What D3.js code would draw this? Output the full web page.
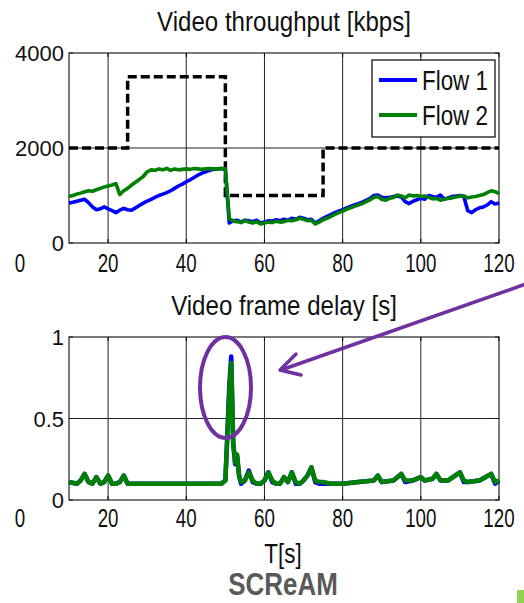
<!DOCTYPE html>
<html><head><meta charset="utf-8">
<script src="https://cdn.jsdelivr.net/npm/d3@7"></script>
<style>html,body{margin:0;padding:0;background:#fff;}svg{display:block;}</style>
</head><body>
<svg id="c" width="524" height="603"></svg>
<script>
// ---------- data ----------
const time = d3.range(10, 121, 1); // seconds, 10..120
const flow1 = [840,860,880,900,920,850,760,700,720,760,720,680,640,690,730,700,690,740,790,840,
880,920,960,1000,1030,1060,1100,1150,1200,1240,1290,1330,1380,1430,1470,1500,1530,1550,1560,1570,
1550,420,470,480,440,480,470,450,480,420,440,470,460,490,470,500,480,520,500,540,
520,490,500,420,470,520,560,600,640,670,700,740,770,800,830,860,900,940,1000,1010,
960,950,960,980,990,970,870,830,880,910,940,920,1000,980,960,1010,920,950,980,990,
1000,980,680,640,700,740,760,800,870,820,840];
const flow2 = [980,1000,1030,1050,1080,1100,1090,1120,1150,1180,1200,1220,1250,1020,1100,1150,1220,1280,1340,1400,
1500,1540,1530,1560,1540,1570,1530,1560,1540,1550,1560,1550,1570,1560,1550,1560,1570,1560,1560,1570,
1560,520,460,450,430,470,440,420,450,400,420,440,430,460,440,450,480,470,490,520,
500,470,480,400,440,490,520,560,600,640,670,710,740,770,800,830,870,910,960,980,
920,900,940,960,1010,990,950,1010,990,1000,980,990,960,930,940,900,920,940,950,970,
990,990,950,970,980,1000,1020,1060,1100,1080,1040];
const targetT = [10,25,25,50,50,75,75,120];
const targetV = [2000,2000,3500,3500,1000,1000,2000,2000];

const delayT = [10,12,13,14,15,16,17,18,19,20,21,22,23,24,25,26,28,30,35,40,45,48,49,49.5,50,50.5,51,51.5,52,52.5,53,53.5,54,55,56,57,58,59,60,61,62,63,64,65,66,67,68,69,70,71,72,73,74,75,77,80,84,88,89,90,93,95,96,98,100,101,103,104,105,107,110,111,112,115,118,119,120];
const delay1 = [.11,.10,.12,.16,.11,.10,.14,.10,.11,.15,.10,.10,.11,.15,.10,.10,.10,.10,.10,.10,.10,.10,.10,.11,.12,.40,.70,.88,.35,.22,.27,.15,.10,.12,.18,.11,.10,.10,.12,.17,.11,.10,.10,.14,.11,.17,.10,.10,.12,.15,.20,.11,.10,.10,.10,.10,.11,.12,.15,.11,.12,.16,.11,.12,.14,.12,.13,.16,.12,.12,.17,.11,.11,.12,.16,.10,.12];
const delay2 = [.11,.10,.12,.16,.11,.10,.14,.10,.11,.15,.10,.10,.11,.15,.10,.10,.10,.10,.10,.10,.10,.10,.10,.11,.12,.38,.66,.84,.36,.23,.28,.15,.11,.12,.17,.12,.10,.10,.12,.17,.12,.10,.10,.14,.11,.17,.11,.10,.12,.15,.20,.12,.11,.11,.10,.10,.11,.12,.15,.11,.12,.16,.12,.12,.14,.12,.13,.16,.12,.12,.17,.12,.11,.12,.16,.11,.12];

const xTicks = [20,40,60,80,100,120];
const yTicksTop = [0,2000,4000];
const yTicksBot = [0,0.5,1];
const yTickLabelsBot = ["0","0.5","1"];
const seriesNames = ["Flow 1","Flow 2"];
const colors = ["#0000ff","#008000"];

// ---------- layout ----------
const svg = d3.select("#c");
const L = 69, R = 499;
const x = d3.scaleLinear().domain([10,120]).range([L,R]);
const yTop = d3.scaleLinear().domain([0,4000]).range([243,53]);
const yBot = d3.scaleLinear().domain([0,1]).range([500,337]);
const FONT = "Liberation Sans, Arial, Helvetica, sans-serif";

function txt(g, s, px, py, size, sx, anchor, opts={}) {
  g.append("text").attr("transform",`translate(${px},${py}) scale(${sx},1)`)
   .attr("text-anchor",anchor).attr("font-family",FONT).attr("font-size",size)
   .attr("font-weight",opts.bold?"bold":"normal").attr("fill",opts.fill||"#111").text(s);
}

function panel(y, yTicks, yLabels, gridY, title, titleY, xLabY) {
  const g = svg.append("g");
  const [y0,y1] = y.range();
  xTicks.filter(t=>t<120).forEach(t=>{
    g.append("line").attr("x1",x(t)).attr("x2",x(t)).attr("y1",y0).attr("y2",y1)
     .attr("stroke","#222").attr("stroke-width",1);
  });
  g.append("line").attr("x1",L).attr("x2",R).attr("y1",y(gridY)).attr("y2",y(gridY))
   .attr("stroke","#222").attr("stroke-width",1);
  xTicks.forEach(t=>{
    g.append("line").attr("x1",x(t)).attr("x2",x(t)).attr("y1",y0).attr("y2",y0-4).attr("stroke","#000");
    g.append("line").attr("x1",x(t)).attr("x2",x(t)).attr("y1",y1).attr("y2",y1+4).attr("stroke","#000");
  });
  yTicks.forEach(t=>{
    g.append("line").attr("x1",L).attr("x2",L+4).attr("y1",y(t)).attr("y2",y(t)).attr("stroke","#000");
    g.append("line").attr("x1",R).attr("x2",R-4).attr("y1",y(t)).attr("y2",y(t)).attr("stroke","#000");
  });
  g.append("rect").attr("x",L).attr("y",y1).attr("width",R-L).attr("height",y0-y1)
   .attr("fill","none").attr("stroke","#222").attr("stroke-width",1.2);
  xTicks.forEach(t=> txt(g, String(t), x(t), xLabY, 25, 0.75, "middle"));
  txt(g, "0", 20, xLabY, 25, 0.75, "middle");
  yTicks.forEach((t,i)=> txt(g, yLabels[i], 64, y(t)+8, 22, 1.0, "end"));
  txt(g, title, 284, titleY, 28, 0.86, "middle");
  return g;
}

const gTop = panel(yTop, yTicksTop, yTicksTop.map(String), 2000, "Video throughput [kbps]", 31, 272);
const gBot = panel(yBot, yTicksBot, yTickLabelsBot, 0.5, "Video frame delay [s]", 315, 527);

const lineTop = d3.line().x(d=>x(d[0])).y(d=>yTop(d[1]));
gTop.append("path").datum(targetT.map((t,i)=>[t,targetV[i]])).attr("d",lineTop)
  .attr("fill","none").attr("stroke","#000").attr("stroke-width",3.5).attr("stroke-dasharray","9,4");
[flow1,flow2].forEach((s,k)=>{
  gTop.append("path").datum(time.map((t,i)=>[t,s[i]])).attr("d",lineTop)
   .attr("fill","none").attr("stroke",colors[k]).attr("stroke-width",3.6).attr("stroke-linejoin","round");
});

const lg = gTop.append("g");
lg.append("rect").attr("x",372).attr("y",60).attr("width",123).attr("height",77)
  .attr("fill","#fff").attr("stroke","#000").attr("stroke-width",1.2);
seriesNames.forEach((n,k)=>{
  const ly = 80 + k*35;
  lg.append("line").attr("x1",379).attr("x2",417).attr("y1",ly).attr("y2",ly)
    .attr("stroke",colors[k]).attr("stroke-width",4);
  txt(lg, n, 422, ly+10, 27, 0.83, "start");
});

const lineBot = d3.line().x(d=>x(d[0])).y(d=>yBot(d[1]));
[delay1,delay2].forEach((s,k)=>{
  gBot.append("path").datum(delayT.map((t,i)=>[t,s[i]])).attr("d",lineBot)
   .attr("fill","none").attr("stroke",colors[k]).attr("stroke-width",4.5).attr("stroke-linejoin","round");
});

const purple = "#7030a0";
svg.append("ellipse").attr("cx",225.5).attr("cy",387.5).attr("rx",25.5).attr("ry",50.5)
  .attr("fill","none").attr("stroke",purple).attr("stroke-width",4);
svg.append("line").attr("x1",526).attr("y1",284).attr("x2",281).attr("y2",370)
  .attr("stroke",purple).attr("stroke-width",3.5);
svg.append("path").attr("d","M296,354 L280,370 L301,375")
  .attr("fill","none").attr("stroke",purple).attr("stroke-width",3.5).attr("stroke-linecap","round").attr("stroke-linejoin","round");

txt(svg, "T[s]", 283, 563, 28, 0.8, "middle");
txt(svg, "SCReAM", 283, 595, 32, 0.81, "middle", {bold:true, fill:"#595959"});
svg.append("rect").attr("x",517).attr("y",590).attr("width",7).attr("height",13).attr("fill","#92d050");
</script>
</body></html>
